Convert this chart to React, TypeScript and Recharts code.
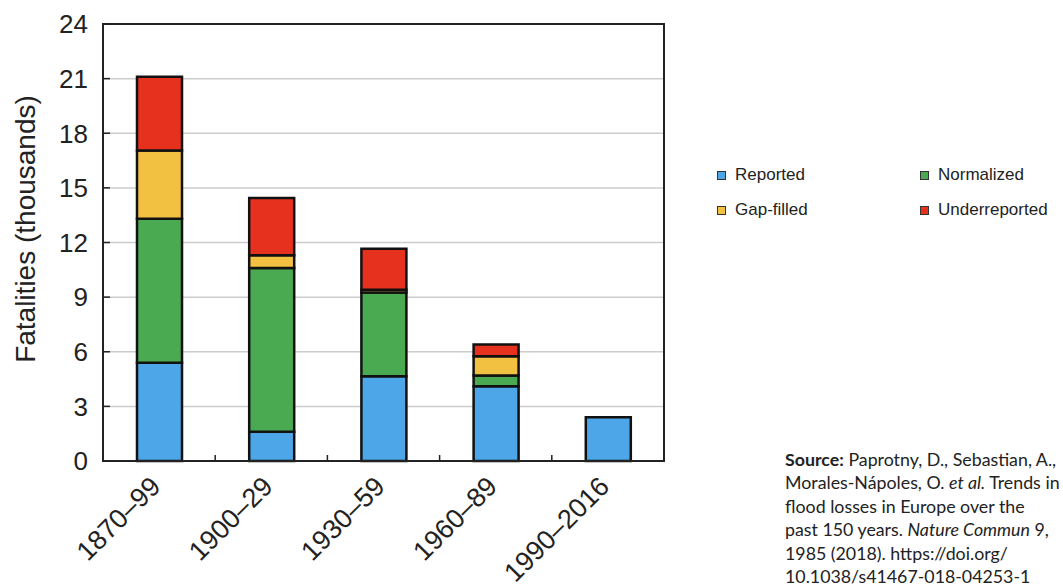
import React from 'react';
import { BarChart, Bar, XAxis, YAxis, CartesianGrid, ReferenceArea } from 'recharts';

const periods = ['1870–99', '1900–29', '1930–59', '1960–89', '1990–2016'];
const reported = [5.4, 1.6, 4.65, 4.1, 2.4];
const normalized = [7.9, 9.0, 4.6, 0.6, 0];
const gapFilled = [3.75, 0.7, 0.15, 1.05, 0];
const underreported = [4.05, 3.15, 2.25, 0.65, 0];
const yTicks = [0, 3, 6, 9, 12, 15, 18, 21, 24];

const seriesNames = ['Reported', 'Normalized', 'Gap-filled', 'Underreported'];
const seriesKeys = ['reported', 'normalized', 'gapFilled', 'underreported'];
const seriesColors = ['#4da6e8', '#4aaa52', '#f3c142', '#e6311f'];

const data = periods.map((p, i) => ({
  period: p,
  reported: reported[i],
  normalized: normalized[i],
  gapFilled: gapFilled[i],
  underreported: underreported[i],
}));

const FONT = '"Liberation Sans", Arial, Helvetica, sans-serif';

const XTick = (props: any) => {
  const { x, y, payload, index } = props;
  const off = payload && payload.offset != null ? payload.offset : 56;
  return (
    <g>
      {index < periods.length - 1 && (
        <line x1={x + off} x2={x + off} y1={y} y2={y - 6} stroke="#222" strokeWidth={1.5} />
      )}
      <text
        transform={`translate(${x + 3},${y + 27}) rotate(-45)`}
        textAnchor="end"
        fontSize={27}
        fontFamily={FONT}
        fill="#222"
      >
        {payload.value}
      </text>
    </g>
  );
};

const YTick = (props: any) => {
  const { x, y, payload } = props;
  return (
    <g>
      <line x1={x} x2={x + 7} y1={y} y2={y} stroke="#222" strokeWidth={1.5} />
      <text x={x - 15} y={y} dy="0.36em" textAnchor="end" fontSize={26} fontFamily={FONT} fill="#222">
        {payload.value}
      </text>
    </g>
  );
};

export default function App() {
  return (
    <div style={{ position: 'absolute', left: 0, top: 0, width: 1063, height: 588, background: '#fff' }}>
      <BarChart
        width={1063}
        height={588}
        data={data}
        margin={{ top: 24, right: 399, bottom: 0, left: 0 }}
      >
        <CartesianGrid vertical={false} stroke="#cccccc" strokeWidth={1.5} />
        <XAxis
          dataKey="period"
          height={127}
          tickLine={false}
          tickSize={0}
          tickMargin={0}
          axisLine={{ stroke: '#222', strokeWidth: 2 }}
          tick={<XTick />}
          interval={0}
        />
        <YAxis
          width={103}
          domain={[0, 24]}
          ticks={yTicks}
          tickLine={false}
          tickSize={0}
          tickMargin={0}
          axisLine={{ stroke: '#222', strokeWidth: 2 }}
          tick={<YTick />}
          label={{
            content: () => (
              <text
                transform="translate(35,229) rotate(-90)"
                textAnchor="middle"
                fontSize={28}
                fontFamily={FONT}
                fill="#222"
              >
                Fatalities (thousands)
              </text>
            ),
          }}
        />
        {seriesKeys.map((k, i) => (
          <Bar
            key={k}
            dataKey={k}
            name={seriesNames[i]}
            stackId="a"
            fill={seriesColors[i]}
            stroke="#111"
            strokeWidth={2.5}
            barSize={45}
            isAnimationActive={false}
          />
        ))}
        <ReferenceArea y1={0} y2={24} fill="none" stroke="#222" strokeWidth={2} ifOverflow="visible" />
      </BarChart>
      <div
        style={{
          position: 'absolute',
          left: 717,
          top: 164,
          display: 'grid',
          gridTemplateColumns: '203px 160px',
          rowGap: 13,
          fontFamily: FONT,
          fontSize: 17,
          color: '#222',
        }}
      >
        {seriesNames.map((n, i) => (
          <div key={n} style={{ display: 'flex', alignItems: 'center', height: 22 }}>
            <span
              style={{
                display: 'inline-block',
                width: 7,
                height: 7,
                background: seriesColors[i],
                border: '1.5px solid #333',
                marginRight: 9,
              }}
            />
            {n}
          </div>
        ))}
      </div>
      <div
        style={{
          position: 'absolute',
          left: 785,
          top: 448,
          fontFamily: 'Lato, "Open Sans", sans-serif',
          fontSize: 17.8,
          lineHeight: '23.4px',
          color: '#222',
          whiteSpace: 'nowrap',
        }}
      >
        <b>Source:</b> Paprotny, D., Sebastian, A.,
        <br />
        Morales-Nápoles, O. <i>et al.</i> Trends in
        <br />
        flood losses in Europe over the
        <br />
        past 150 years. <i>Nature Commun</i> 9,
        <br />
        1985 (2018). https://doi.org/
        <br />
        10.1038/s41467-018-04253-1
      </div>
    </div>
  );
}
